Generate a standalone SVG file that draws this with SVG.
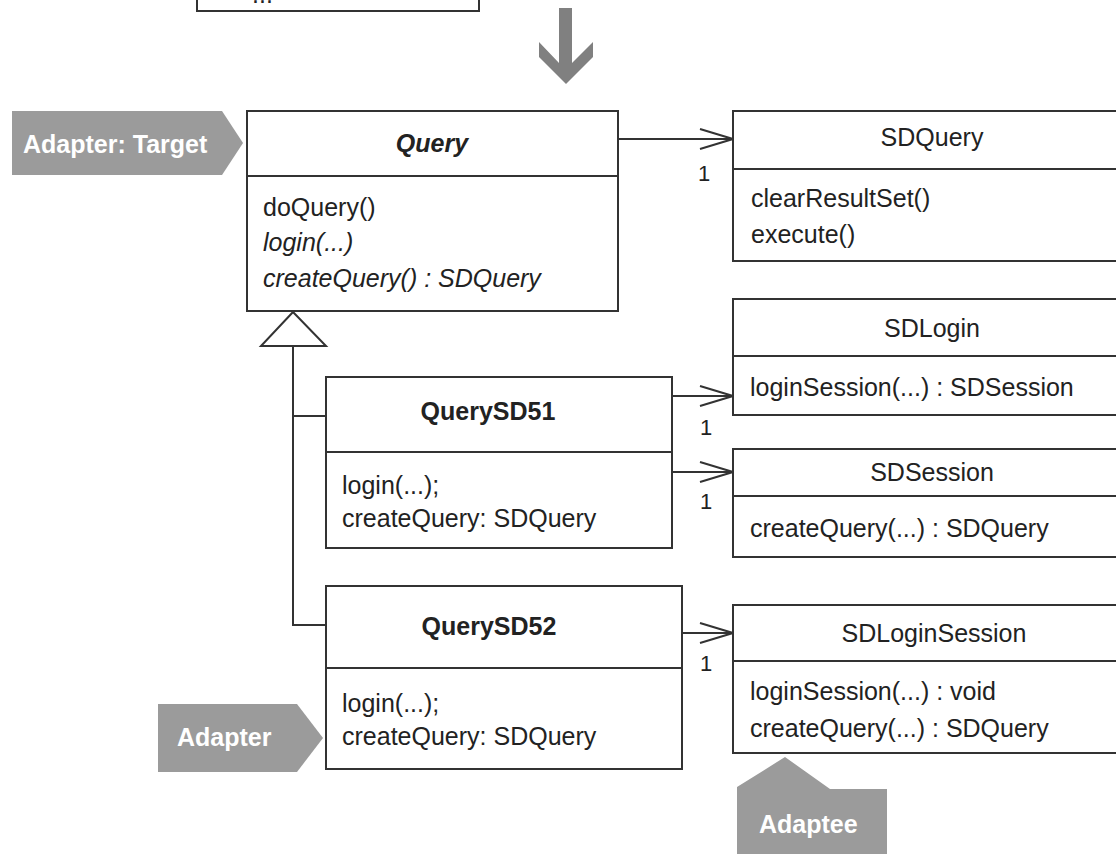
<svg xmlns="http://www.w3.org/2000/svg" width="1116" height="854" viewBox="0 0 1116 854">
<defs>
<style>
.box{fill:#fff;stroke:#333;stroke-width:2}
.ln{stroke:#333;stroke-width:2;fill:none}
.t{font-family:"Liberation Sans",Arial,sans-serif;font-size:25px;fill:#222}
.b{font-weight:bold}
.i{font-style:italic}
.c{text-anchor:middle}
.tag{fill:#9b9b9b}
.tt{font-family:"Liberation Sans",Arial,sans-serif;font-size:25px;font-weight:bold;fill:#fff}
.m{font-family:"Liberation Sans",Arial,sans-serif;font-size:22px;fill:#222}
</style>
<marker id="open" markerWidth="36" markerHeight="24" refX="34" refY="11" orient="auto" markerUnits="userSpaceOnUse">
<path d="M1,1 L34,11 L1,21" fill="none" stroke="#333" stroke-width="2"/>
</marker>
</defs>
<rect width="1116" height="854" fill="#fff"/>

<g id="prev">
<rect class="box" x="197" y="-10" width="282" height="21"/>
<text class="t" x="252" y="3">...</text>
</g>

<g id="bigarrow">
<polygon fill="#808080" points="559,8 572,8 572,63 593,42 593,57 566,84 539,57 539,42 559,63"/>
</g>

<g id="connectors">
<line class="ln" x1="618" y1="139" x2="733" y2="139" marker-end="url(#open)"/>
<text class="m" x="698" y="181">1</text>
<line class="ln" x1="672" y1="396" x2="733" y2="396" marker-end="url(#open)"/>
<text class="m" x="700" y="435">1</text>
<line class="ln" x1="672" y1="472" x2="733" y2="472" marker-end="url(#open)"/>
<text class="m" x="700" y="509">1</text>
<line class="ln" x1="682" y1="633" x2="733" y2="633" marker-end="url(#open)"/>
<text class="m" x="700" y="671">1</text>
<polyline class="ln" points="326,416 293,416 293,346"/>
<polyline class="ln" points="326,625 293,625 293,416"/>
<polygon points="293,312 326,346 261,346" fill="#fff" stroke="#333" stroke-width="2"/>
</g>

<g id="tagTarget">
<polygon class="tag" points="12,111 222,111 243,143 222,175 12,175"/>
<text class="tt" x="23" y="153">Adapter: Target</text>
</g>

<g id="Query">
<rect class="box" x="247" y="111" width="371" height="200"/>
<line class="ln" x1="247" y1="176" x2="618" y2="176"/>
<text class="t b i c" x="432" y="152">Query</text>
<text class="t" x="263" y="216">doQuery()</text>
<text class="t i" x="263" y="251">login(...)</text>
<text class="t i" x="263" y="287">createQuery() : SDQuery</text>
</g>

<g id="SDQuery">
<rect class="box" x="733" y="111" width="400" height="150"/>
<line class="ln" x1="733" y1="169" x2="1133" y2="169"/>
<text class="t c" x="932" y="146">SDQuery</text>
<text class="t" x="751" y="207">clearResultSet()</text>
<text class="t" x="751" y="243">execute()</text>
</g>

<g id="SDLogin">
<rect class="box" x="733" y="299" width="400" height="116"/>
<line class="ln" x1="733" y1="356" x2="1133" y2="356"/>
<text class="t c" x="932" y="337">SDLogin</text>
<text class="t" x="750" y="396">loginSession(...) : SDSession</text>
</g>

<g id="SDSession">
<rect class="box" x="733" y="449" width="400" height="108"/>
<line class="ln" x1="733" y1="496" x2="1133" y2="496"/>
<text class="t c" x="932" y="481">SDSession</text>
<text class="t" x="750" y="537">createQuery(...) : SDQuery</text>
</g>

<g id="QuerySD51">
<rect class="box" x="326" y="377" width="346" height="171"/>
<line class="ln" x1="326" y1="452" x2="672" y2="452"/>
<text class="t b c" x="488" y="420">QuerySD51</text>
<text class="t" x="342" y="494">login(...);</text>
<text class="t" x="342" y="527">createQuery: SDQuery</text>
</g>

<g id="QuerySD52">
<rect class="box" x="326" y="586" width="356" height="183"/>
<line class="ln" x1="326" y1="668" x2="682" y2="668"/>
<text class="t b c" x="489" y="635">QuerySD52</text>
<text class="t" x="342" y="712">login(...);</text>
<text class="t" x="342" y="745">createQuery: SDQuery</text>
</g>

<g id="SDLoginSession">
<rect class="box" x="733" y="605" width="400" height="148"/>
<line class="ln" x1="733" y1="661" x2="1133" y2="661"/>
<text class="t c" x="934" y="642">SDLoginSession</text>
<text class="t" x="750" y="700">loginSession(...) : void</text>
<text class="t" x="750" y="737">createQuery(...) : SDQuery</text>
</g>

<g id="tagAdapter">
<polygon class="tag" points="158,704 297,704 323,738 297,772 158,772"/>
<text class="tt" x="177" y="746">Adapter</text>
</g>

<g id="tagAdaptee">
<polygon class="tag" points="737,854 737,787 785,757 830,789 887,789 887,854"/>
<text class="tt" x="759" y="833">Adaptee</text>
</g>
</svg>
